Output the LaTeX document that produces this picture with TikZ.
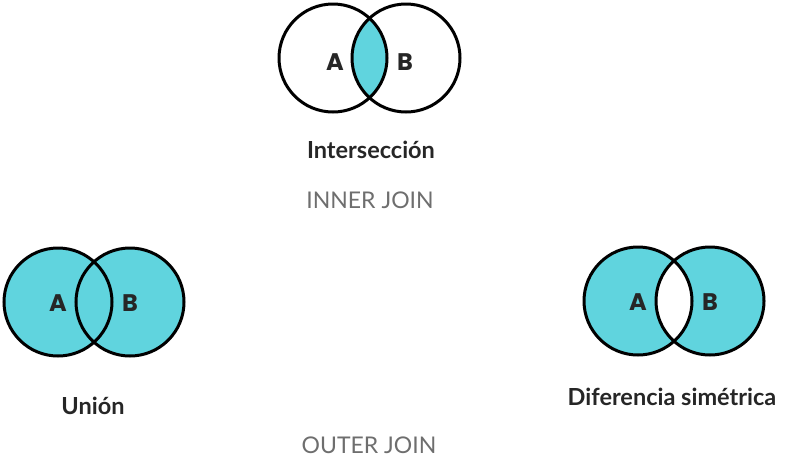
\documentclass[tikz,border=0pt]{standalone}
\usepackage{fontspec}
\setmainfont{Lato}
\newfontfamily\setfont{Poppins}
\definecolor{venncyan}{RGB}{96,212,222}
\definecolor{joingray}{RGB}{110,110,110}
\begin{document}
\begin{tikzpicture}[x=1pt,y=-1pt,
  ring/.style={draw=black,line width=3pt},
  setlabel/.style={font=\setfont\bfseries\fontsize{24}{24}\selectfont,text=black!85},
  title/.style={font=\bfseries\fontsize{23.5}{23.5}\selectfont,text=black!85},
  joinlabel/.style={font=\fontsize{23}{23}\selectfont,text=joingray}]
\useasboundingbox (0,0) rectangle (791,461);
% Intersection
\begin{scope}
  \clip (333,58) circle (54);
  \fill[venncyan] (406,58) circle (54);
\end{scope}
\draw[ring] (333,58) circle (54);
\draw[ring] (406,58) circle (54);
\node[setlabel] (ia) at (335,62) {A};
\node[setlabel] (ib) at (405,62) {B};
\node[title] (inter) at (371,150) {Intersección};
\node[joinlabel] (inner) at (370,200) {INNER JOIN};
% Union
\fill[venncyan] (58,302) circle (54) (130,302) circle (54);
\draw[ring] (58,302) circle (54);
\draw[ring] (130,302) circle (54);
\node[setlabel] (ua) at (58,303) {A};
\node[setlabel] (ub) at (130,303) {B};
\node[title] (union) at (93,406) {Unión};
% Symmetric difference
\fill[venncyan,even odd rule] (638,301) circle (54) (710,301) circle (54);
\draw[ring] (638,301) circle (54);
\draw[ring] (710,301) circle (54);
\node[setlabel] (da) at (638,302) {A};
\node[setlabel] (db) at (710,302) {B};
\node[title] (symdiff) at (672,397) {Diferencia simétrica};
\node[joinlabel] (outer) at (369,445) {OUTER JOIN};
\end{tikzpicture}
\end{document}
